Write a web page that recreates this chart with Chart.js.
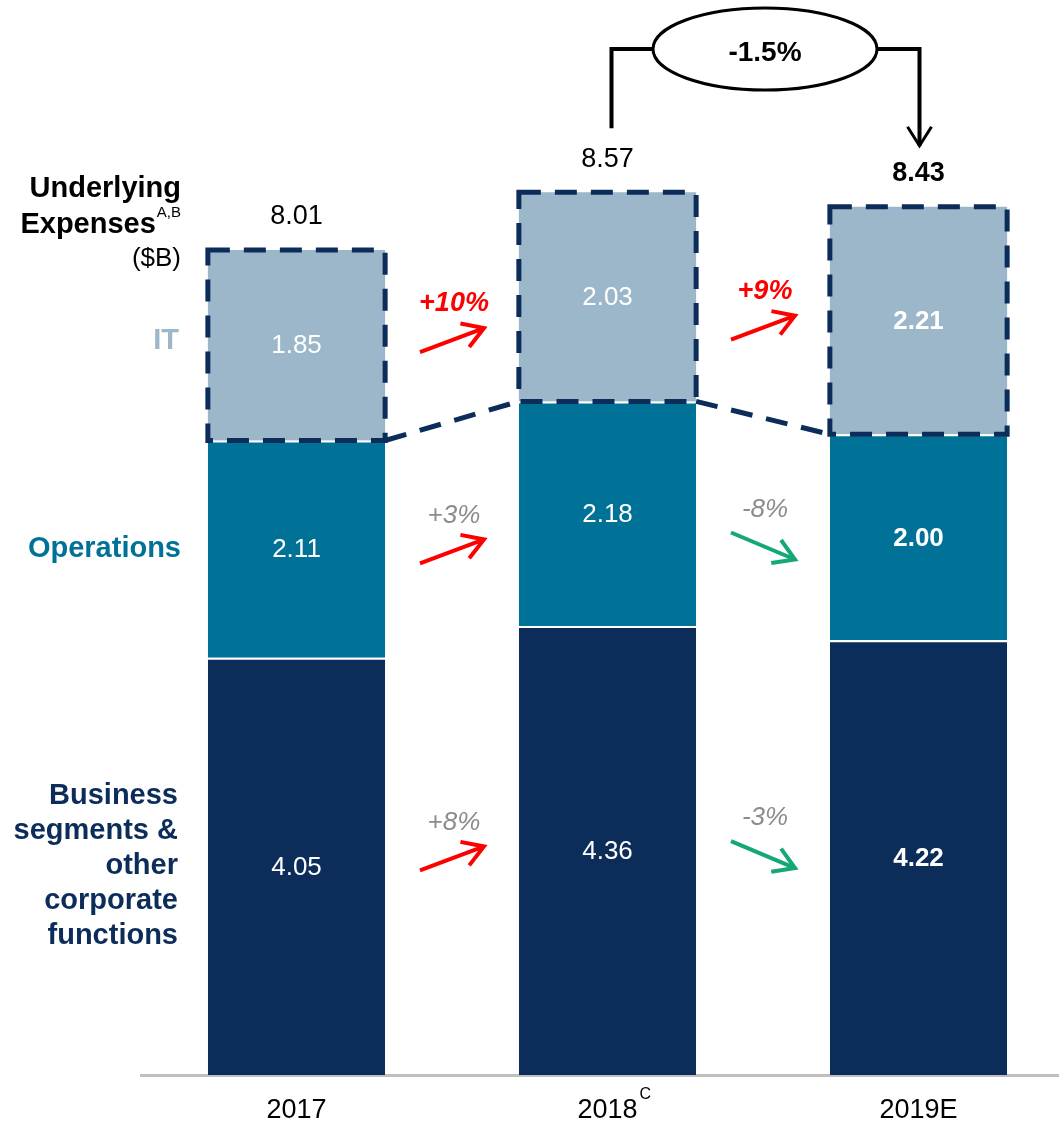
<!DOCTYPE html>
<html>
<head>
<meta charset="utf-8">
<script src="https://cdn.jsdelivr.net/npm/chart.js@4/dist/chart.umd.min.js"></script>
<style>
  html, body { margin: 0; padding: 0; background: #fff; overflow: hidden; }
  #wrap { width: 1074px; height: 1121px; position: relative; }
</style>
</head>
<body>
<div id="wrap"><canvas id="expChart"></canvas></div>
<script>
// data ($B)
var years = ['2017', '2018', '2019E'];
var business = [4.05, 4.36, 4.22];
var operations = [2.11, 2.18, 2.00];
var itCost = [1.85, 2.03, 2.21];
var totals = [8.01, 8.57, 8.43];
var itChange = ['+10%', '+9%'];
var opsChange = ['+3%', '-8%'];
var bizChange = ['+8%', '-3%'];
var overallChange = '-1.5%';

var NAVY = '#0c2d5a';
var TEAL = '#007298';
var LIGHT = '#9bb7c9';
var FONT = '"Liberation Sans", Arial, sans-serif';

function drawArrow(ctx, x1, y1, x2, y2, color, width) {
  var a = Math.atan2(y2 - y1, x2 - x1);
  var len = 24;
  ctx.save();
  ctx.setLineDash([]);
  ctx.strokeStyle = color;
  ctx.lineWidth = width;
  ctx.beginPath();
  ctx.moveTo(x1, y1);
  ctx.lineTo(x2, y2);
  ctx.moveTo(x2 - len * Math.cos(a - 0.55), y2 - len * Math.sin(a - 0.55));
  ctx.lineTo(x2, y2);
  ctx.lineTo(x2 - len * Math.cos(a + 0.55), y2 - len * Math.sin(a + 0.55));
  ctx.stroke();
  ctx.restore();
}

var overlay = {
  id: 'overlay',
  afterDraw: function (chart) {
    var ctx = chart.ctx;
    var bz = chart.getDatasetMeta(0).data.map(function (b) { return b.getProps(['x', 'y', 'base', 'width'], true); });
    var op = chart.getDatasetMeta(1).data.map(function (b) { return b.getProps(['x', 'y', 'base', 'width'], true); });
    var it = chart.getDatasetMeta(2).data.map(function (b) { return b.getProps(['x', 'y', 'base', 'width'], true); });

    ctx.save();
    ctx.textAlign = 'center';
    ctx.textBaseline = 'middle';

    // values inside segments
    [[bz, business], [op, operations], [it, itCost]].forEach(function (pair) {
      pair[0].forEach(function (b, i) {
        ctx.fillStyle = '#fff';
        ctx.font = (i === 2 ? 'bold ' : '') + '26px ' + FONT;
        ctx.fillText(pair[1][i].toFixed(2), b.x, (b.y + b.base) / 2 + 1);
      });
    });

    // dashed IT boxes and joining lines
    ctx.strokeStyle = NAVY;
    ctx.lineWidth = 5;
    ctx.setLineDash([22, 14]);
    it.forEach(function (b) {
      ctx.strokeRect(b.x - b.width / 2, b.y, b.width, b.base - b.y);
    });
    for (var i = 0; i < it.length - 1; i++) {
      ctx.beginPath();
      ctx.moveTo(it[i].x + it[i].width / 2, it[i].base);
      ctx.lineTo(it[i + 1].x - it[i + 1].width / 2, it[i + 1].base);
      ctx.stroke();
    }
    ctx.setLineDash([]);

    // totals
    it.forEach(function (b, i) {
      ctx.fillStyle = '#000';
      ctx.font = (i === 2 ? 'bold ' : '') + '27px ' + FONT;
      ctx.fillText(totals[i].toFixed(2), b.x, b.y - 33);
    });

    // change arrows between bars
    function mid(b) { return (b.y + b.base) / 2; }
    var layers = [
      { bars: it, txt: itChange, dy: 19, strong: true },
      { bars: op, txt: opsChange, dy: 20, strong: false },
      { bars: bz, txt: bizChange, dy: 0, strong: false }
    ];
    layers.forEach(function (l) {
      for (var i = 0; i < l.bars.length - 1; i++) {
        var b0 = l.bars[i], b1 = l.bars[i + 1];
        var cx = (b0.x + b0.width / 2 + b1.x - b1.width / 2) / 2;
        var cy = (mid(b0) + mid(b1)) / 2 + l.dy;
        var up = l.txt[i].charAt(0) === '+';
        if (up) {
          drawArrow(ctx, cx - 32, cy + 12, cx + 32, cy - 12, '#ff0000', 4);
        } else {
          drawArrow(ctx, cx - 32, cy - 13, cx + 32, cy + 14, '#13a874', 4);
        }
        if (l.strong) {
          ctx.fillStyle = '#ff0000';
          ctx.font = 'italic bold 27px ' + FONT;
        } else {
          ctx.fillStyle = '#8c8c8c';
          ctx.font = 'italic 26px ' + FONT;
        }
        ctx.fillText(l.txt[i], cx + 2, cy - 36);
      }
    });

    // left side labels
    ctx.textAlign = 'right';
    ctx.fillStyle = '#000';
    ctx.font = 'bold 29px ' + FONT;
    ctx.fillText('Underlying', 181, 189);
    ctx.font = '15px ' + FONT;
    var supW = ctx.measureText('A,B').width;
    ctx.fillText('A,B', 181, 213);
    ctx.font = 'bold 29px ' + FONT;
    ctx.fillText('Expenses', 180 - supW, 225);
    ctx.font = '26px ' + FONT;
    ctx.fillText('($B)', 181, 259);

    ctx.font = 'bold 29px ' + FONT;
    ctx.fillStyle = LIGHT;
    ctx.fillText('IT', 179, mid(it[0]) - 4);
    ctx.fillStyle = TEAL;
    ctx.fillText('Operations', 181, mid(op[0]));
    ctx.fillStyle = NAVY;
    var bizLines = ['Business', 'segments &', 'other', 'corporate', 'functions'];
    var by = mid(bz[0]) - 2 * 35;
    bizLines.forEach(function (t, k) {
      ctx.fillText(t, 178, by + k * 35);
    });

    // -1.5% bracket from 2018 to 2019E
    var xa = it[1].x, xb = it[2].x;
    var ex = (xa + xb) / 2 + 2, ey = 49, rx = 112, ry = 41;
    ctx.strokeStyle = '#000';
    ctx.lineWidth = 4;
    ctx.beginPath();
    ctx.moveTo(xa + 4, it[1].y - 64);
    ctx.lineTo(xa + 4, ey);
    ctx.lineTo(ex - rx, ey);
    ctx.moveTo(ex + rx, ey);
    ctx.lineTo(xb + 1, ey);
    ctx.lineTo(xb + 1, it[2].y - 61);
    ctx.stroke();
    ctx.lineWidth = 3;
    ctx.beginPath();
    ctx.moveTo(xb - 11, it[2].y - 80);
    ctx.lineTo(xb + 1, it[2].y - 61);
    ctx.lineTo(xb + 13, it[2].y - 80);
    ctx.stroke();
    ctx.beginPath();
    ctx.ellipse(ex, ey, rx, ry, 0, 0, Math.PI * 2);
    ctx.fillStyle = '#fff';
    ctx.fill();
    ctx.stroke();
    ctx.textAlign = 'center';
    ctx.fillStyle = '#000';
    ctx.font = 'bold 28px ' + FONT;
    ctx.fillText(overallChange, ex, 53);

    // superscript on 2018 tick
    var xs = chart.scales.x;
    ctx.font = '27px ' + FONT;
    var tw = ctx.measureText(years[1]).width;
    ctx.font = '16px ' + FONT;
    ctx.textAlign = 'left';
    ctx.fillStyle = '#000';
    ctx.fillText('C', xs.getPixelForValue(1) + tw / 2 + 2, xs.bottom - 26);

    ctx.restore();
  }
};

new Chart(document.getElementById('expChart'), {
  type: 'bar',
  data: {
    labels: years,
    datasets: [
      { label: 'Business segments & other corporate functions', data: business, backgroundColor: NAVY,
        borderColor: '#fff', borderWidth: { top: 2, left: 0, right: 0, bottom: 0 }, borderSkipped: false },
      { label: 'Operations', data: operations, backgroundColor: TEAL,
        borderColor: '#fff', borderWidth: { top: 2, left: 0, right: 0, bottom: 0 }, borderSkipped: false },
      { label: 'IT', data: itCost, backgroundColor: LIGHT, borderWidth: 0 }
    ]
  },
  options: {
    responsive: true,
    maintainAspectRatio: false,
    animation: false,
    layout: { padding: { left: 141, right: 0, top: 0, bottom: 0 } },
    datasets: { bar: { barPercentage: 1, categoryPercentage: 0.57 } },
    plugins: { legend: { display: false }, tooltip: { enabled: false } },
    scales: {
      x: {
        stacked: true,
        grid: { display: false, drawTicks: false },
        border: { display: true, color: '#bfbfbf', width: 3 },
        ticks: { color: '#000', font: { family: FONT, size: 27 }, padding: 19 },
        afterFit: function (s) { s.height = 46; }
      },
      y: {
        stacked: true,
        display: false,
        min: 0,
        max: 1075 / 103
      }
    }
  },
  plugins: [overlay]
});
</script>
</body>
</html>
